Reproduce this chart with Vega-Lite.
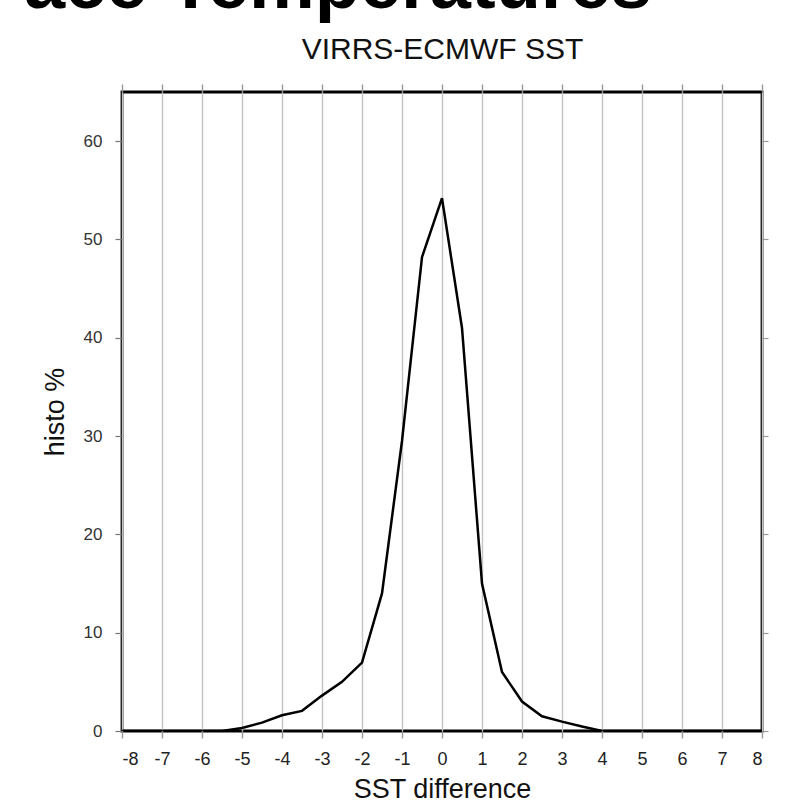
{
  "$schema": "https://vega.github.io/schema/vega-lite/v6.json",
  "width": 640,
  "height": 639,
  "autosize": "none",
  "padding": {"left": 122, "top": 92, "right": 40, "bottom": 69},
  "background": "white",
  "title": {
    "text": "ace Temperatures",
    "anchor": "start",
    "frame": "group",
    "font": "Liberation Sans",
    "fontSize": 74,
    "fontWeight": "bold",
    "color": "black",
    "baseline": "alphabetic",
    "dx": -98,
    "dy": 48,
    "offset": 0
  },
  "config": {
    "view": {"stroke": "black", "strokeWidth": 2.8},
    "font": "Liberation Sans"
  },
  "data": {
    "values": [
      {"diff": -8, "pct": 0}, {"diff": -7.5, "pct": 0}, {"diff": -7, "pct": 0},
      {"diff": -6.5, "pct": 0}, {"diff": -6, "pct": 0}, {"diff": -5.5, "pct": 0},
      {"diff": -5, "pct": 0.3}, {"diff": -4.5, "pct": 0.85}, {"diff": -4, "pct": 1.6},
      {"diff": -3.5, "pct": 2.05}, {"diff": -3, "pct": 3.6}, {"diff": -2.5, "pct": 5.0},
      {"diff": -2, "pct": 6.95}, {"diff": -1.5, "pct": 14}, {"diff": -1, "pct": 29.5},
      {"diff": -0.5, "pct": 48.2}, {"diff": 0, "pct": 54.2}, {"diff": 0.5, "pct": 41.0},
      {"diff": 1, "pct": 15}, {"diff": 1.5, "pct": 6}, {"diff": 2, "pct": 3},
      {"diff": 2.5, "pct": 1.5}, {"diff": 3, "pct": 0.95}, {"diff": 3.5, "pct": 0.45},
      {"diff": 4, "pct": 0}, {"diff": 4.5, "pct": 0}, {"diff": 5, "pct": 0},
      {"diff": 5.5, "pct": 0}, {"diff": 6, "pct": 0}, {"diff": 6.5, "pct": 0},
      {"diff": 7, "pct": 0}, {"diff": 7.5, "pct": 0}, {"diff": 8, "pct": 0}
    ]
  },
  "resolve": {"axis": {"x": "independent", "y": "independent"}},
  "layer": [
    {
      "mark": {"type": "line", "strokeOpacity": 0},
      "encoding": {
        "x": {
          "field": "diff", "type": "quantitative",
          "scale": {"domain": [-8, 8], "nice": false, "zero": false},
          "axis": {
            "orient": "top",
            "values": [-8, -7, -6, -5, -4, -3, -2, -1, 0, 1, 2, 3, 4, 5, 6, 7, 8],
            "grid": true, "gridColor": "#c4c4c4", "gridWidth": 1.4,
            "domain": false, "labels": false,
            "ticks": true, "tickSize": 8, "tickColor": "#999", "tickWidth": 1.4,
            "title": "VIRRS-ECMWF SST", "titleFontSize": 30, "titleFontWeight": "normal",
            "titleColor": "#111", "titleFont": "Liberation Sans",
            "titleBaseline": "alphabetic", "titleY": -34
          }
        },
        "y": {
          "field": "pct", "type": "quantitative",
          "scale": {"domain": [0, 65], "nice": false},
          "axis": {
            "orient": "left",
            "values": [0, 10, 20, 30, 40, 50, 60],
            "grid": false, "domain": false,
            "tickSize": 7, "tickColor": "#777", "tickWidth": 1.2,
            "labelFontSize": 17, "labelColor": "#333", "labelPadding": 13,
            "labelFont": "Liberation Sans",
            "title": "histo %", "titleFontSize": 27, "titleFontWeight": "normal",
            "titleColor": "#111", "titleFont": "Liberation Sans", "titlePadding": 14
          }
        }
      }
    },
    {
      "mark": {"type": "line", "color": "black", "strokeWidth": 2.5, "clip": true},
      "encoding": {
        "x": {
          "field": "diff", "type": "quantitative",
          "scale": {"domain": [-8, 8], "nice": false, "zero": false},
          "axis": {
            "orient": "bottom",
            "values": [-8, -7, -6, -5, -4, -3, -2, -1, 0, 1, 2, 3, 4, 5, 6, 7, 8],
            "labelExpr": "'' + datum.value",
            "grid": false,
            "domain": false,
            "ticks": true, "tickSize": 7, "tickColor": "#999", "tickWidth": 1.4,
            "labelFontSize": 18, "labelColor": "#222", "labelPadding": 12,
            "labelFont": "Liberation Sans",
            "title": "SST difference", "titleFontSize": 27, "titleFontWeight": "normal",
            "titleColor": "#111", "titleFont": "Liberation Sans",
            "titleBaseline": "alphabetic", "titleY": 66
          }
        },
        "y": {
          "field": "pct", "type": "quantitative",
          "scale": {"domain": [0, 65], "nice": false},
          "axis": {
            "orient": "right",
            "values": [0, 10, 20, 30, 40, 50, 60],
            "grid": false, "domain": false, "labels": false,
            "tickSize": 6, "tickColor": "#999", "tickWidth": 1.2,
            "title": null
          }
        }
      }
    }
  ]
}
